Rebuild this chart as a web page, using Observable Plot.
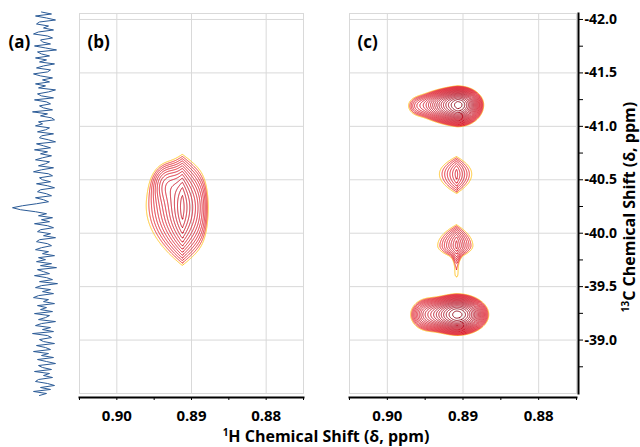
<!DOCTYPE html>
<html><head><meta charset="utf-8">
<script src="https://cdn.jsdelivr.net/npm/d3@7"></script>
<script src="https://cdn.jsdelivr.net/npm/@observablehq/plot@0.6"></script>
<style>
body{margin:0;background:#fff;}
#chart{position:relative;width:640px;height:447px;overflow:hidden;font-family:"Open Sans",sans-serif;}
#chart > svg{position:absolute;top:0;}
.title{position:absolute;font-weight:bold;font-size:16px;line-height:16px;white-space:nowrap;text-align:center;color:#000;}
.sup{font-size:10px;vertical-align:6px;}
</style></head><body><div id="chart"></div>
<script>
// axis ticks
const xMajor = [0.90, 0.89, 0.88];
const xMinor = [0.905, 0.895, 0.885, 0.875];
const yMajor = [-42.0, -41.5, -41.0, -40.5, -40.0, -39.5, -39.0];
const yMinor = [-41.75, -41.25, -40.75, -40.25, -39.75, -39.25, -38.75];
const xDomain = [0.905, 0.875];
const yDomain = [-42.056, -38.5];

// (a) 1D 13C trace: intensities sampled along the 13C axis
const traceStart = -42.07, traceStep = 0.01869;
const traceIntensity = [
 3,-7,9,-2,-11,5,8,-4,1,-9,6,11,
 -3,-8,4,2,-6,10,-1,-12,7,3,-5,9,
 -2,5,-10,1,8,-6,-3,11,4,-8,2,-5,
 9,-1,6,-11,-4,7,3,-9,10,-2,-6,5,
 1,-8,12,-3,4,-7,-10,6,2,9,-5,-1,
 7,-9,3,5,-4,-11,8,1,-6,10,-3,4,
 -7,2,9,-5,-1,6,-9,3,11,-4,-8,5,
 2,-6,8,-3,-10,4,7,-2,-7,9,1,-4,
 8,22,32,24,9,-2,6,-8,3,-5,10,-3,
 -9,4,7,-6,1,-11,5,8,-3,-7,3,9,
 -4,2,-10,6,-1,8,-7,4,-12,7,1,-5,
 10,-2,-8,5,-13,3,9,-6,2,-9,6,11,
 -4,1,-10,7,-2,4,-8,10,-5,-1,6,-11,
 3,9,-6,2,-9,12,-3,-7,5,1,-10,8,
 -1,-6,11,-4,3,-9,7,-2,-11,6,2,-7,
 10,-5,1,-8,6,9,-3,-10,4,-6,11,-2,
 5
];

// 2D peaks (components)
const peakPanel = ["b","b","c","c","c","c","c","c","c"];
const peakAmp   = [9.95, 2.0, 42.8, 1.0, 3.27, 4.71, 1.18, 42.8, 3.0];
const peakX     = [0.8913, 0.89343, 0.8908, 0.8961, 0.89093, 0.89093, 0.89093, 0.89093, 0.8949];
const peakY     = [-40.246, -40.47, -41.206, -41.19, -40.558, -39.888, -39.69, -39.243, -39.243];
const peakWL    = [0.00209, 0.0016, 0.00212, 0.0012, 0.0019, 0.0016, 0.00053, 0.0022, 0.0016];
const peakWR    = [0.00213, 0.0016, 0.00179, 0.0012, 0.0017, 0.0014, 0.00053, 0.0022, 0.0016];
const peakPL    = [1, 2, 1.3, 2, 1, 1, 2, 1.5, 2];
const peakPR    = [1, 2, 2, 2, 1, 1, 2, 2, 2];
const peakEdgeR = [0.00371, 0, 0, 0, 0, 0, 0, 0, 0];
const peakHU    = [0.327, 0.15, 0.0916, 0.084, 0.151, 0.158, 0.126, 0.101, 0.1215];
const peakHD    = [0.358, 0.15, 0.106, 0.084, 0.166, 0.097, 0.126, 0.101, 0.1215];
const peakQ     = [2, 2, 2, 2, 2, 2, 6, 2, 2];
const contourRatio = 1.2;
const contourLevels = Array.from({length: 26}, (_, k) => contourRatio ** k);
const levelBreaks = [1.1, 1.3, 1.6, 2.5, 5, 10, 20, 30];
const levelColors = ["#ffc62b","#ee3b36","#e52a35","#e02533","#d92232","#cc1e2f","#bb1a2c","#aa1628","#981424"];

function field(panel) {
  const idx = peakPanel.map((p, i) => p === panel ? i : -1).filter(i => i >= 0);
  return (x, y) => {
    let s = 0;
    for (const i of idx) {
      const dx = x - peakX[i], dy = y - peakY[i];
      let ex;
      if (dx >= 0) ex = Math.pow(dx / peakWL[i], peakPL[i]);
      else {
        const u = -dx;
        ex = Math.pow(u / peakWR[i], peakPR[i]);
        if (peakEdgeR[i]) ex += Math.pow(u / peakEdgeR[i], 6);
      }
      const ey = dy < 0 ? Math.pow(-dy / peakHU[i], peakQ[i]) : Math.pow(dy / peakHD[i], peakQ[i]);
      s += peakAmp[i] * Math.exp(-ex - ey);
    }
    return s;
  };
}
// contour lines of the peak model, as rings in data coordinates
function contourRings(panel, w, h) {
  const f = field(panel);
  const vals = new Array(w * h);
  const gx = g => xDomain[0] + g / w * (xDomain[1] - xDomain[0]);
  const gy = g => yDomain[0] + g / h * (yDomain[1] - yDomain[0]);
  for (let j = 0; j < h; j++) for (let i = 0; i < w; i++) vals[i + j * w] = f(gx(i + 0.5), gy(j + 0.5));
  const rows = [];
  let ring = 0;
  for (const c of d3.contours().size([w, h]).thresholds(contourLevels)(vals)) {
    for (const poly of c.coordinates) for (const r of poly) {
      ring++;
      for (const [px, py] of r) rows.push({x: gx(px + 0.5), y: gy(py + 0.5), ring, level: c.value});
    }
  }
  return rows;
}

const chart = document.getElementById("chart");
const baseStyle = {fontFamily: "Open Sans", fontSize: "14px", fontWeight: "bold", color: "#000", background: "transparent", overflow: "visible"};
const gridColor = "#d9d9d9";

// (a)
const traceData = traceIntensity.map((v, i) => ({shift: traceStart + i * traceStep, intensity: v}));
const pa = Plot.plot({
  width: 70, height: 447, marginLeft: 0, marginRight: 0, marginTop: 13, marginBottom: 54,
  style: baseStyle,
  x: {domain: [44, -26], axis: null},
  y: {domain: yDomain, reverse: true, axis: null},
  marks: [
    Plot.line(traceData, {x: "intensity", y: "shift", stroke: "#2a5a96", strokeWidth: 1}),
    Plot.text(["(a)"], {frameAnchor: "top-left", dx: 8, dy: 22, text: d => d, fontSize: 17, fontWeight: "bold", textAnchor: "start", lineAnchor: "top", fill: "#000"})
  ]
});
pa.style.left = "0px";
chart.appendChild(pa);

function panel(label, panelKey, width, marginRight, rightAxis) {
  const w = width - 9 - marginRight, h = 447 - 13 - 54;
  const rings = contourRings(panelKey, w, h);
  const marks = [
    Plot.gridX(xMajor, {stroke: gridColor, strokeOpacity: 1}),
    Plot.gridY(yMajor, {stroke: gridColor, strokeOpacity: 1}),
    Plot.frame({stroke: gridColor}),
    Plot.line(rings, {x: "x", y: "y", z: "ring", stroke: "level", strokeWidth: 1, curve: "linear-closed"}),
    Plot.frame({anchor: "bottom", stroke: "#000", strokeWidth: 2, dy: 4}),
    Plot.axisX({ticks: xMinor, tickSize: 3, dy: 4, tickFormat: () => "", label: null}),
    Plot.axisX({ticks: xMajor, tickSize: 3, dy: 4, tickPadding: 10, tickFormat: d => d.toFixed(2), label: null, fontSize: 15}),
    Plot.text([label], {frameAnchor: "top-left", dx: 8, dy: 22, text: d => d, fontSize: 17, fontWeight: "bold", textAnchor: "start", lineAnchor: "top", fill: "#000"})
  ];
  if (rightAxis) {
    marks.push(
      Plot.frame({anchor: "right", stroke: "#000", strokeWidth: 2, dx: 2}),
      Plot.axisY({ticks: yMinor, anchor: "right", tickSize: 4, dx: 2, tickFormat: () => "", label: null}),
      Plot.axisY({ticks: yMajor, anchor: "right", tickSize: 4, dx: 2, tickPadding: 2, tickFormat: d => d.toFixed(1), label: null, fontSize: 14})
    );
  }
  return Plot.plot({
    width, height: 447, marginLeft: 9, marginRight, marginTop: 13, marginBottom: 54,
    style: baseStyle,
    x: {domain: xDomain},
    y: {domain: yDomain, reverse: true, axis: rightAxis ? undefined : null},
    color: {type: "threshold", domain: levelBreaks, range: levelColors},
    marks
  });
}

const pb = panel("(b)", "b", 240, 7, false);
pb.style.left = "70px";
chart.appendChild(pb);
const pc = panel("(c)", "c", 300, 64, true);
pc.style.left = "340px";
chart.appendChild(pc);

// axis titles
const xt = document.createElement("div");
xt.className = "title";
xt.style.left = "0px"; xt.style.width = "652px"; xt.style.top = "424px";
xt.innerHTML = '<span class="sup">1</span>H Chemical Shift (δ, ppm)';
chart.appendChild(xt);
const yt = document.createElement("div");
yt.className = "title";
yt.style.left = "477px"; yt.style.width = "300px"; yt.style.top = "197px";
yt.style.transform = "rotate(-90deg)"; yt.style.transformOrigin = "50% 50%";
yt.innerHTML = '<span class="sup">13</span>C Chemical Shift (δ, ppm)';
chart.appendChild(yt);
</script></body></html>
